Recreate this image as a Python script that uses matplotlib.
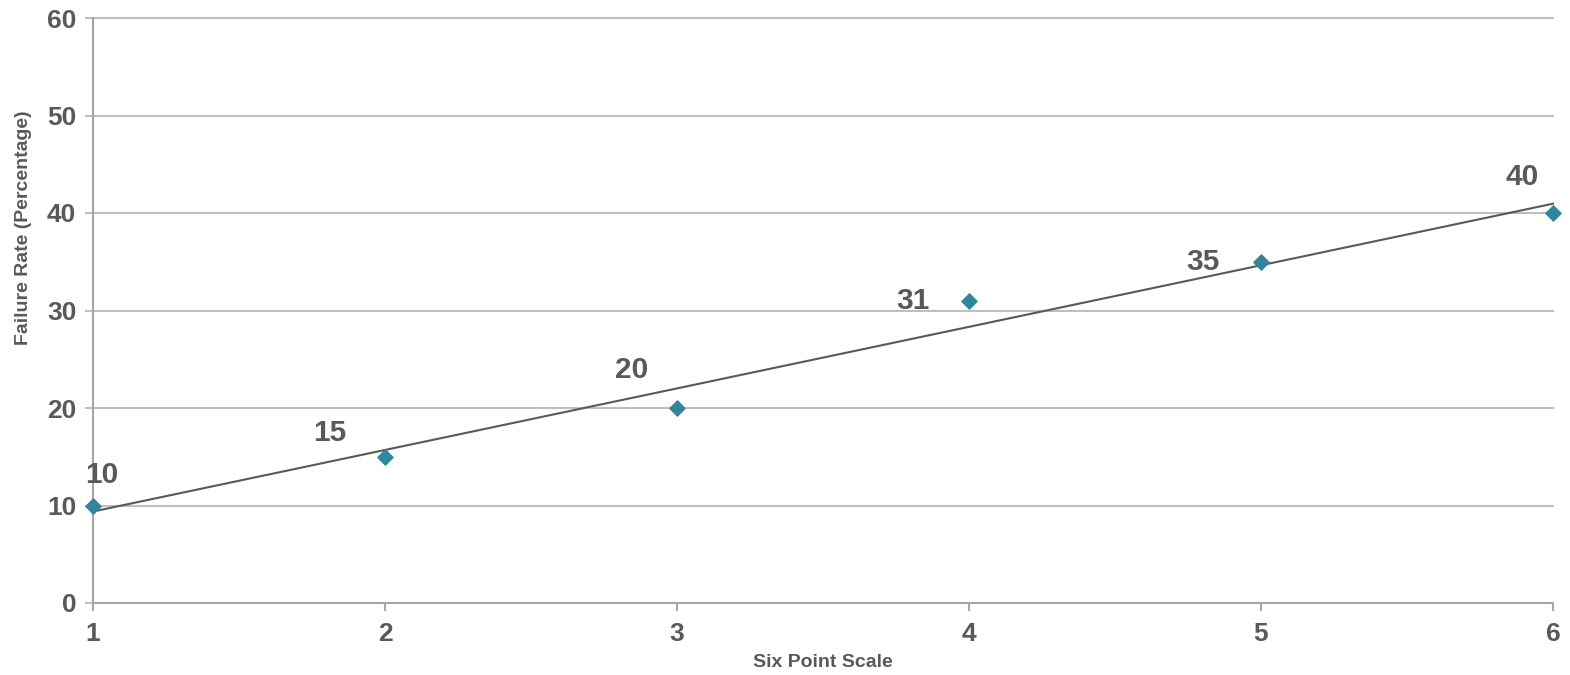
import numpy as np
import matplotlib.pyplot as plt

plt.rcParams['font.family'] = ['Liberation Sans', 'DejaVu Sans']

# scale points and failure rates
scale = [1, 2, 3, 4, 5, 6]
failure_rate = [10, 15, 20, 31, 35, 40]
y_ticks = [0, 10, 20, 30, 40, 50, 60]

# label offsets (points) for the value labels
label_offsets = [(6, 22), (-40, 17), (-33, 27), (-40, 0), (-42, 0), (-22, 26)]

text_col = '#595959'
grid_col = '#bfbfbf'

fig = plt.figure(figsize=(15.7, 6.75), dpi=100)
ax = fig.add_axes([93 / 1570, 1 - 603 / 675, 1460 / 1570, 585 / 675])

ax.set_xlim(1, 6)
ax.set_ylim(0, 60)
ax.set_yticks(y_ticks)
ax.set_xticks(scale)

for v in y_ticks[1:]:
    ax.axhline(v, color=grid_col, lw=1.5, zorder=1, clip_on=False)

# linear trend line
k, b = np.polyfit(scale, failure_rate, 1)
xs = np.array([scale[0], scale[-1]])
ax.plot(xs, k * xs + b, color=text_col, lw=1.5, zorder=3, clip_on=False)

ax.scatter(scale, failure_rate, marker='D', s=60, color='#31869b', zorder=4, clip_on=False)

for x, y, (dx, dy) in zip(scale, failure_rate, label_offsets):
    ax.annotate(str(y), (x, y), xytext=(dx, dy), textcoords='offset points',
                ha='center', va='center', fontsize=21.5, fontweight='bold', color=text_col)

for s in ['top', 'right']:
    ax.spines[s].set_visible(False)
ax.spines['left'].set_color('#a6a6a6')
ax.spines['bottom'].set_color('#a6a6a6')
ax.spines['left'].set_linewidth(1.5)
ax.spines['bottom'].set_linewidth(1.5)

ax.tick_params(axis='y', length=6, width=1.5, color=grid_col, labelsize=19,
               labelcolor=text_col, pad=6)
ax.tick_params(axis='x', length=6, width=1.5, color='#a6a6a6', labelsize=19,
               labelcolor=text_col, pad=8)
for lbl in ax.get_xticklabels() + ax.get_yticklabels():
    lbl.set_fontweight('bold')

ax.set_xlabel('Six Point Scale', fontsize=14, fontweight='bold', color=text_col)
ax.xaxis.set_label_coords(0.5, -0.087)
ax.set_ylabel('Failure Rate (Percentage)', fontsize=14, fontweight='bold', color=text_col)
ax.yaxis.set_label_coords(-0.042, 0.641)

fig.savefig('out.png', dpi=100)
